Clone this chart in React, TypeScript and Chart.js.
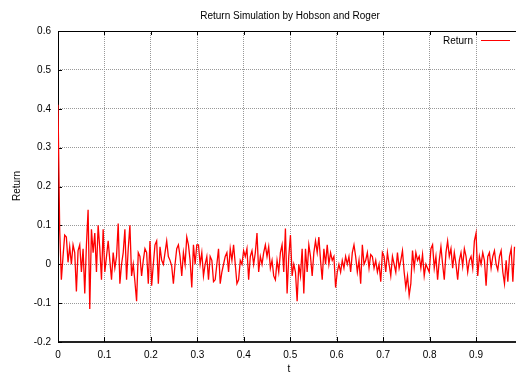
import React, { useEffect, useRef } from "react";
import { Chart, registerables } from "chart.js";

Chart.register(...registerables);

const TITLE = "Return Simulation by Hobson and Roger";
const X_TITLE = "t";
const Y_TITLE = "Return";
const SERIES_LABEL = "Return";
const T_STEP = 0.0036;
const X_MIN = 0;
const X_MAX = 0.986;
const Y_MIN = -0.2;
const Y_MAX = 0.6;
const xTicks = [0, 0.1, 0.2, 0.3, 0.4, 0.5, 0.6, 0.7, 0.8, 0.9];
const yTicks = [-0.2, -0.1, 0, 0.1, 0.2, 0.3, 0.4, 0.5, 0.6];

const returnsA = [0.41, 0.09, -0.04, 0.02, 0.075, 0.07, 0.005, 0.045, 0.0, 0.05, 0.03, -0.07, 0.035, 0.05, -0.02, 0.04, -0.075, 0.05, 0.14, -0.115, 0.09, 0.03, 0.08, -0.02, 0.1, 0.04, -0.04, 0.09];
const returnsB = [-0.02, 0.02, 0.06, 0.01, -0.04, 0.03, -0.01, 0.02, 0.105, -0.05, 0.0, 0.03, 0.09, -0.04, 0.04, 0.1, -0.03, 0.0, -0.045, -0.095, 0.03, 0.02, -0.03, 0.01, 0.04, 0.03, -0.05, 0.06];
const returnsC = [-0.055, 0.0, 0.05, 0.06, -0.05, 0.045, 0.01, 0.0, 0.03, 0.06, 0.02, 0.01, -0.005, -0.05, 0.0, 0.04, 0.05, 0.02, -0.03, 0.03, 0.0, 0.07, 0.05, 0.01, -0.06, 0.05, 0.0, 0.05];
const returnsD = [0.05, 0.0, 0.03, -0.03, 0.0, 0.02, -0.04, 0.02, 0.01, -0.045, -0.04, 0.0, 0.04, -0.05, -0.02, 0.0, 0.02, 0.03, -0.02, 0.04, 0.01, 0.05, 0.0, -0.05, -0.04, 0.01, 0.0, 0.035];
const returnsE = [0.02, 0.04, -0.04, 0.02, 0.035, 0.0, 0.03, 0.08, -0.02, 0.02, 0.0, 0.03, 0.05, 0.02, 0.045, -0.01, 0.01, -0.03, -0.04, 0.01, -0.02, 0.03, 0.05, -0.02, 0.092, -0.075, 0.02, 0.075];
const returnsF = [-0.03, 0.0, -0.02, -0.095, 0.0, -0.03, 0.04, -0.075, 0.04, -0.02, 0.05, 0.02, -0.03, 0.03, 0.06, 0.03, 0.07, 0.01, -0.04, 0.04, 0.0, 0.05, 0.0, 0.03, 0.01, 0.02, -0.06, -0.02];
const returnsG = [0.0, -0.02, 0.01, -0.01, 0.02, 0.0, 0.02, -0.02, 0.03, 0.05, 0.02, -0.02, 0.01, -0.05, 0.05, 0.0, 0.01, 0.03, -0.01, 0.025, 0.02, -0.01, 0.01, -0.02, 0.0, -0.045, 0.03, 0.02];
const returnsH = [-0.02, 0.03, 0.0, -0.03, 0.02, 0.0, -0.02, 0.03, -0.01, 0.01, 0.035, -0.02, -0.06, -0.03, -0.08, -0.05, 0.035, -0.01, 0.03, 0.01, 0.02, -0.01, 0.025, -0.03, 0.0, -0.01, -0.02, 0.04];
const returnsI = [0.05, -0.01, 0.02, -0.04, 0.01, 0.045, 0.0, -0.04, 0.03, 0.06, 0.02, 0.04, -0.01, 0.03, 0.0, -0.04, 0.01, 0.03, -0.005, 0.04, 0.02, -0.02, 0.01, 0.02, -0.01, 0.06, 0.08, -0.03];
const returnsJ = [0.02, 0.0, 0.03, 0.01, -0.055, 0.02, 0.03, -0.01, 0.02, 0.035, 0.0, -0.015, 0.02, 0.035, -0.02, -0.05, 0.01, -0.045, 0.02, 0.04, -0.045, 0.045];

const returns = [
  ...returnsA, ...returnsB, ...returnsC, ...returnsD, ...returnsE,
  ...returnsF, ...returnsG, ...returnsH, ...returnsI, ...returnsJ,
];

const FONT = "'Liberation Sans', Arial, Helvetica, sans-serif";
const fmt = (v: number) => String(Number(v.toFixed(1)));

const framePlugin = {
  id: "frame",
  beforeDatasetsDraw(chart: any) {
    const { ctx, chartArea: a, scales } = chart;
    ctx.save();
    ctx.strokeStyle = "#000";
    ctx.lineWidth = 1;
    ctx.beginPath();
    ctx.moveTo(a.left + 0.5, a.bottom);
    ctx.lineTo(a.left + 0.5, a.top + 0.5);
    ctx.lineTo(a.right, a.top + 0.5);
    ctx.stroke();
    ctx.lineWidth = 2;
    ctx.strokeStyle = "#222";
    ctx.beginPath();
    ctx.moveTo(a.left, a.bottom);
    ctx.lineTo(a.right, a.bottom);
    ctx.stroke();
    ctx.lineWidth = 1;
    ctx.strokeStyle = "#000";
    ctx.beginPath();
    for (const v of xTicks) {
      const px = Math.round(scales.x.getPixelForValue(v)) + 0.5;
      ctx.moveTo(px, a.top);
      ctx.lineTo(px, a.top + 4);
      ctx.moveTo(px, a.bottom);
      ctx.lineTo(px, a.bottom - 5);
    }
    for (const v of yTicks) {
      const py = Math.round(scales.y.getPixelForValue(v)) + 0.5;
      ctx.moveTo(a.left, py);
      ctx.lineTo(a.left + 4, py);
    }
    ctx.stroke();
    ctx.restore();
  },
  afterDraw(chart: any) {
    const { ctx } = chart;
    ctx.save();
    ctx.fillStyle = "#000";
    ctx.font = `10px ${FONT}`;
    ctx.textBaseline = "alphabetic";
    ctx.textAlign = "center";
    ctx.fillText(TITLE, 290, 18.5);
    ctx.fillText(X_TITLE, 289, 372);
    ctx.textAlign = "right";
    ctx.fillText(SERIES_LABEL, 473, 44);
    ctx.strokeStyle = "#ff0000";
    ctx.lineWidth = 1;
    ctx.beginPath();
    ctx.moveTo(481, 40.5);
    ctx.lineTo(510, 40.5);
    ctx.stroke();
    ctx.translate(20, 186);
    ctx.rotate(-Math.PI / 2);
    ctx.textAlign = "center";
    ctx.fillText(Y_TITLE, 0, 0);
    ctx.restore();
  },
};

export default function App() {
  const ref = useRef<HTMLCanvasElement>(null);
  useEffect(() => {
    document.body.style.margin = "0";
    const data = returns.map((v, i) => ({ x: i * T_STEP, y: v }));
    const chart = new Chart(ref.current as HTMLCanvasElement, {
      type: "line",
      data: {
        datasets: [
          {
            label: SERIES_LABEL,
            data,
            borderColor: "#ff0000",
            borderWidth: 1.3,
            pointRadius: 0,
            tension: 0,
            fill: false,
          },
        ],
      },
      options: {
        responsive: false,
        animation: false,
        devicePixelRatio: 1,
        layout: { padding: { top: 31, left: 0, right: 0, bottom: 0 } },
        plugins: {
          legend: { display: false },
          tooltip: { enabled: false },
          title: { display: false },
        },
        scales: {
          x: {
            type: "linear",
            min: X_MIN,
            max: X_MAX,
            afterBuildTicks: (s: any) => {
              s.ticks = xTicks.map((v) => ({ value: v }));
            },
            afterFit: (s: any) => {
              s.height = 30;
            },
            ticks: {
              padding: 7,
              color: "#000",
              font: { family: FONT, size: 10 },
              maxRotation: 0,
              autoSkip: false,
              callback: (v: any) => fmt(Number(v)),
            },
            grid: { color: "#999", drawTicks: false, lineWidth: 1 },
            border: { display: false, dash: [1, 1] },
          },
          y: {
            type: "linear",
            min: Y_MIN,
            max: Y_MAX,
            afterBuildTicks: (s: any) => {
              s.ticks = yTicks.map((v) => ({ value: v }));
            },
            afterFit: (s: any) => {
              s.width = 58;
            },
            ticks: {
              padding: 7,
              color: "#000",
              font: { family: FONT, size: 10 },
              autoSkip: false,
              callback: (v: any) => fmt(Number(v)),
            },
            grid: { color: "#999", drawTicks: false, lineWidth: 1 },
            border: { display: false, dash: [1, 1] },
          },
        },
      },
      plugins: [framePlugin],
    });
    return () => chart.destroy();
  }, []);
  return (
    <div style={{ position: "fixed", left: 0, top: 0, width: 516, height: 372, background: "#fff" }}>
      <canvas ref={ref} width={516} height={372} style={{ display: "block", width: 516, height: 372 }} />
    </div>
  );
}
